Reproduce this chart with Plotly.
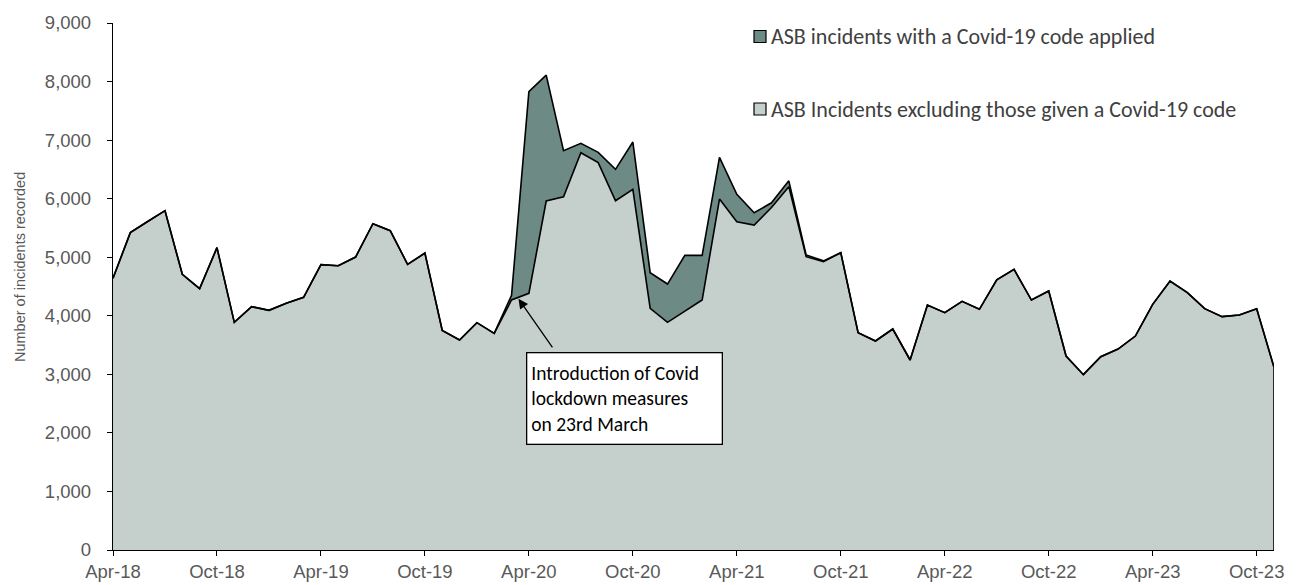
import plotly.graph_objects as go
import pandas as pd

months = [d.strftime("%b-%y") for d in pd.date_range("2018-04-01", "2023-11-01", freq="MS")]

excl_covid = [
    4640, 5420, 5610, 5795, 4708, 4463, 5163, 3888, 4156,            # Apr-18..Dec-18
    4093, 4212, 4315, 4873, 4855, 5003, 5573, 5453, 4879, 5070, 3750, 3586,  # 2019
    3882, 3700, 4270, 4383, 5960, 6033, 6785, 6615, 5965, 6159, 4127, 3888,  # 2020
    4076, 4269, 5994, 5607, 5550, 5850, 6205, 5009, 4923, 5077, 3711, 3569,  # 2021
    3774, 3245, 4184, 4053, 4247, 4110, 4615, 4793, 4269, 4423, 3313, 2994,  # 2022
    3301, 3432, 3654, 4195, 4594, 4394, 4121, 3985, 4013, 4121, 3120,        # 2023
]

with_covid = [
    0, 0, 0, 0, 0, 0, 0, 0, 0,
    0, 0, 0, 0, 0, 0, 0, 0, 0, 0, 0, 0,
    0, 0, 80, 3444, 2151, 786, 160, 175, 536, 808, 609, 654,
    956, 763, 712, 467, 210, 80, 100, 30, 15, 0, 0, 0,
    0, 0, 0, 0, 0, 0, 0, 0, 0, 0, 0, 0,
    0, 0, 0, 0, 0, 0, 0, 0, 0, 0, 0,
]

legend_names = [
    "ASB incidents with a Covid-19 code applied",
    "ASB Incidents excluding those given a Covid-19 code",
]
y_title = "Number of incidents recorded"
annotation_text = "Introduction of Covid<br>lockdown measures<br>on 23rd March"
annotation_month = "Mar-20"

LIGHT = "#C5CFCC"
DARK = "#6E8A84"
AXIS_FONT = "Arial, Liberation Sans, sans-serif"
TEXT_FONT = "Carlito, Lato, sans-serif"

idx = list(range(len(months)))
tick_idx = idx[::6]
tick_txt = [months[i] for i in tick_idx]

# page has an 8px body margin: work in figure pixels = screen pixels - 8
OFF = 8
FIG_W, FIG_H = 1299 - OFF, 585 - OFF
L, R, T, B = 113 - OFF, 1274 - OFF, 23 - OFF, 550 - OFF
W, H = R - L, B - T


def px_x(sx):
    return (sx - OFF - L) / W


def px_y(sy):
    return 1 - (sy - OFF - T) / H


fig = go.Figure()
fig.add_trace(go.Scatter(
    x=idx, y=excl_covid, mode="lines", stackgroup="s",
    line=dict(color="black", width=1.6), fillcolor=LIGHT,
    name=legend_names[1], showlegend=False, hoverinfo="skip",
))
fig.add_trace(go.Scatter(
    x=idx, y=with_covid, mode="lines", stackgroup="s",
    line=dict(color="black", width=1.6), fillcolor=DARK,
    name=legend_names[0], showlegend=False, hoverinfo="skip",
))

# right edge of the area
last = idx[-1]
fig.add_shape(type="line", x0=last, x1=last, y0=0,
              y1=excl_covid[-1] + with_covid[-1],
              line=dict(color="black", width=1.6), layer="above")

# manual legend
leg_font = dict(family=TEXT_FONT, size=22, color="#404040")
for name, color, sy in [(legend_names[0], DARK, 36.5), (legend_names[1], LIGHT, 109)]:
    yp = px_y(sy)
    fig.add_shape(type="rect", xref="paper", yref="paper",
                  x0=px_x(754), x1=px_x(766),
                  y0=yp - 6 / H, y1=yp + 6 / H,
                  fillcolor=color, line=dict(color="black", width=1.2))
    fig.add_annotation(xref="paper", yref="paper",
                       x=px_x(769), y=yp,
                       xanchor="left", yanchor="middle", showarrow=False,
                       text=name, font=leg_font)

# y-axis title
fig.add_annotation(xref="paper", yref="paper", x=px_x(20), y=px_y(267),
                   xanchor="center", yanchor="middle", showarrow=False,
                   textangle=-90, text=y_title,
                   font=dict(family=AXIS_FONT, size=14.5, color="#595959"))

# arrow
ai = months.index(annotation_month)
fig.add_annotation(x=ai + 0.4, y=excl_covid[ai] + with_covid[ai] - 60,
                   ax=35, ay=50, text="", showarrow=True,
                   arrowhead=2, arrowsize=1.5, arrowwidth=1.3, arrowcolor="black",
                   standoff=0)
# text box
fig.add_annotation(xref="paper", yref="paper",
                   x=px_x(526), y=px_y(352),
                   xanchor="left", yanchor="top", showarrow=False,
                   text=annotation_text, align="left",
                   font=dict(family=TEXT_FONT, size=19.5, color="black"),
                   bgcolor="white", bordercolor="black", borderwidth=1.3,
                   borderpad=4, width=186, height=82)

fig.update_layout(
    width=FIG_W, height=FIG_H,
    margin=dict(l=L, r=FIG_W - R, t=T, b=FIG_H - B),
    paper_bgcolor="white", plot_bgcolor="white",
    font=dict(family=AXIS_FONT, color="#595959"),
    xaxis=dict(range=[0, last], tickmode="array", tickvals=tick_idx, ticktext=tick_txt,
               showline=True, linecolor="black", linewidth=1.3, ticks="outside",
               ticklen=5, tickcolor="black", showgrid=False, zeroline=False,
               automargin=False,
               tickfont=dict(family=AXIS_FONT, size=18.5, color="#595959")),
    yaxis=dict(range=[0, 9000], dtick=1000, tickformat=",", showline=True,
               linecolor="black", linewidth=1.3, ticks="outside", ticklen=5,
               tickcolor="black", showgrid=False, zeroline=False,
               automargin=False, ticklabelstandoff=12,
               tickfont=dict(family=AXIS_FONT, size=18.5, color="#595959")),
)

fig.write_html("out.html")
